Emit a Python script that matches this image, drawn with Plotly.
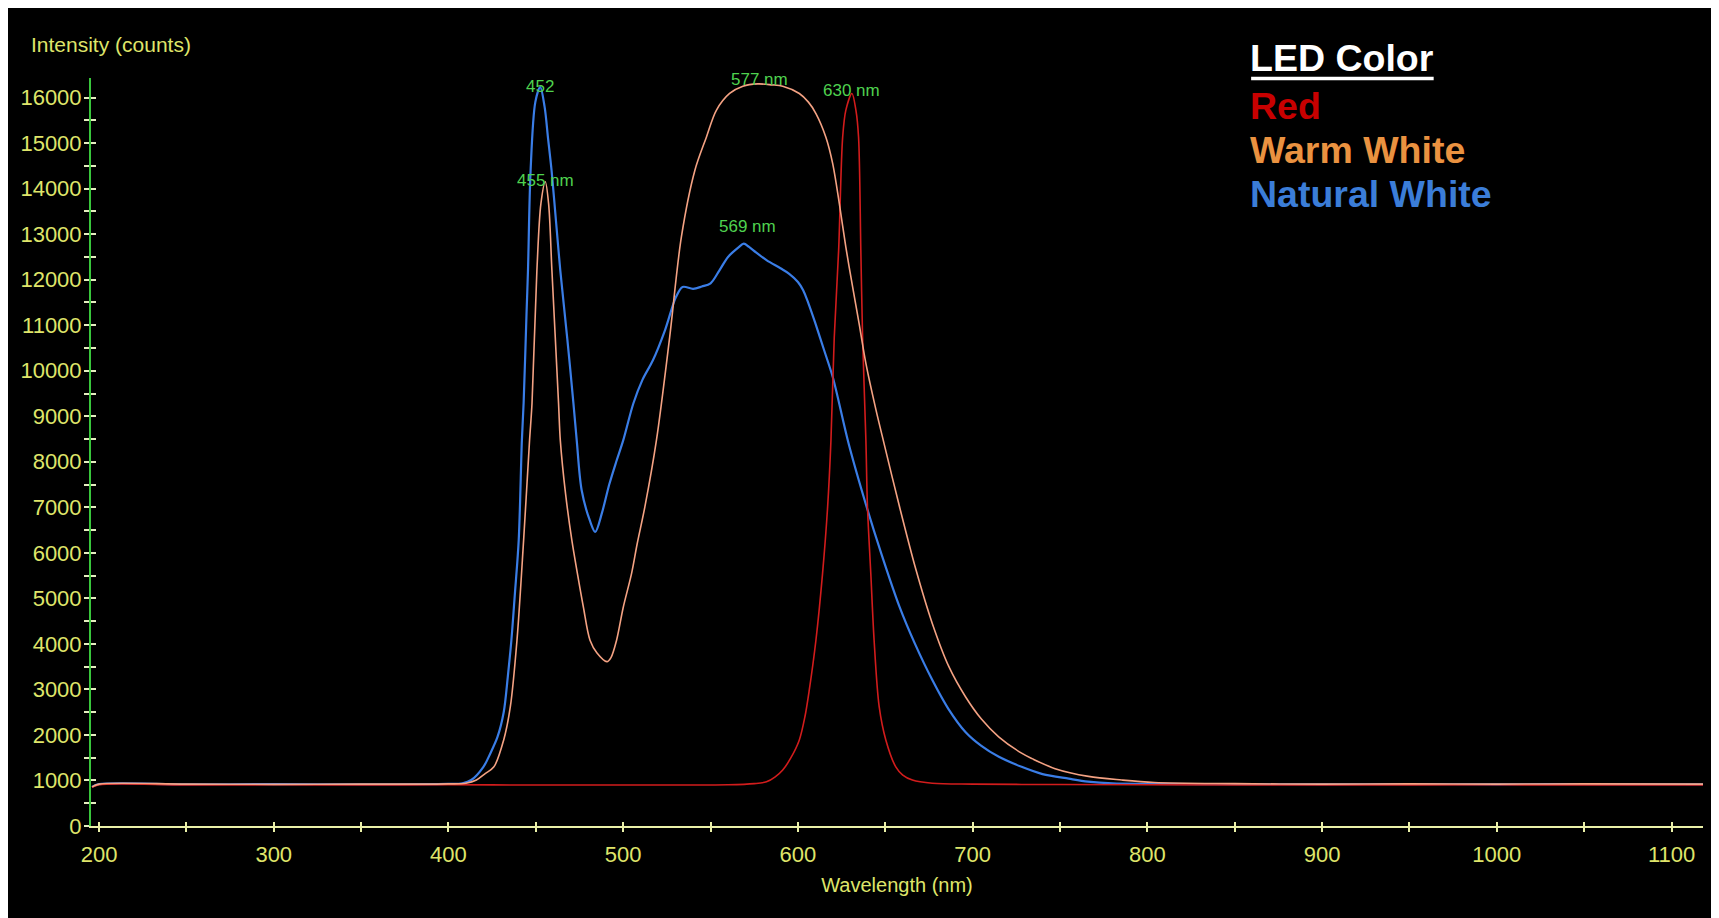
import plotly.graph_objects as go

# ---------------- data ----------------
wl_natural = [196, 200, 250, 300, 350, 400, 408, 413, 420, 424, 428, 431.6, 434, 436, 438, 440.2,
              442, 443, 444.7, 445.5, 447, 449.7, 452.5, 455, 457, 459, 461.5, 464, 468, 471.5,
              473.4, 476.2, 481, 484, 488, 492, 496, 500, 505.8, 511, 517, 524, 530, 534, 540,
              545, 550, 555, 560, 566, 569, 572, 576, 582, 590, 595, 600, 603, 606, 610, 615, 620, 629,
              639, 648, 658, 667, 677, 686, 696, 705, 715, 728, 740, 755, 766, 780, 800, 850, 900,
              950, 1000, 1050, 1118]
cnt_natural = [860, 920, 915, 920, 915, 925, 940, 1010, 1300, 1600, 1950, 2500, 3300, 4080, 5100, 6280,
               8470, 9290, 11300, 12200, 14400, 15900, 16230, 15800, 15100, 14400, 13300, 12200, 10700, 9290,
               8470, 7380, 6700, 6460, 6900, 7500, 8000, 8470, 9280, 9800, 10230, 10900, 11600, 11840, 11800,
               11850, 11920, 12200, 12500, 12710, 12790, 12720, 12600, 12430, 12250, 12130, 11950, 11770, 11480, 11040, 10450, 9850, 8400,
               7050, 5950, 4830, 4000, 3200, 2580, 2060, 1760, 1520, 1300, 1140, 1040, 975, 935, 925, 920, 915,
               920, 915, 920, 915]

wl_warm = [196, 200, 250, 300, 350, 400, 410, 416, 421, 426, 431.6, 435.4, 439.2, 443, 446.4, 447.8,
           450.6, 452.9, 455.4, 457.3, 459.2, 463, 464, 467, 470.6, 474, 477.2, 481, 485, 490.7, 493,
           496.2, 500, 504.8, 508, 512.4, 519, 526.6, 533.3, 541, 547.6, 553.3, 560.9, 568.5, 577, 585,
           591.3, 600.8, 606, 610.3, 616, 619.9, 623.7, 627.4, 631.3, 635, 638.9, 644.6, 649.3, 657.9,
           667.4, 676.9, 686.4, 695.9, 705, 714.9, 728, 734, 747.2, 766.3, 785.3, 804, 850, 900, 950,
           1000, 1050, 1118]
cnt_warm = [860, 920, 920, 915, 920, 925, 940, 1010, 1150, 1300, 1890, 2620, 4080, 6280, 8470, 9280,
            12200, 13670, 14150, 13670, 12200, 9280, 8470, 7300, 6280, 5500, 4810, 4080, 3800, 3610, 3700,
            4080, 4800, 5550, 6200, 7010, 8470, 10740, 12940, 14400, 15130, 15720, 16090, 16250, 16300, 16280,
            16250, 16090, 15900, 15650, 15130, 14550, 13670, 12720, 11840, 11040, 10160, 9150, 8400, 7050,
            5650, 4450, 3500, 2840, 2350, 1960, 1600, 1480, 1260, 1090, 1010, 955, 930, 920, 925,
            920, 925, 920]

wl_red = [196, 200, 250, 300, 350, 400, 450, 500, 560, 575, 582, 587, 591.3, 596, 600.8, 604, 606.5,
          610.3, 614.1, 617, 618.9, 620.8, 623.3, 625.6, 627.4, 630.9, 633.2, 634.7, 636, 637, 638.9,
          639.8, 641.7, 643.6, 646.5, 650.3, 656, 660, 665.5, 676.9, 700, 750, 800, 900, 1000, 1118]
cnt_red = [850, 905, 900, 905, 900, 905, 900, 900, 905, 930, 970, 1080, 1230, 1500, 1890, 2400, 2990,
           4080, 5550, 7010, 8470, 10740, 12650, 15130, 15720, 16090, 15720, 15130, 12650, 10740, 8470,
           7010, 5550, 4080, 2620, 1890, 1300, 1120, 1010, 940, 920, 910, 905, 900, 905, 900]

peak_labels = ["452", "455 nm", "577 nm", "630 nm", "569 nm"]
peak_wl = [452.5, 455.4, 578, 630.7, 571]
peak_cnt = [16230, 14150, 16300, 16090, 12790]
peak_shift = [1, 1, 4, 3, 17]

legend_title = "LED Color"
legend_names = ["Red", "Warm White", "Natural White"]

x_ticks = [200, 300, 400, 500, 600, 700, 800, 900, 1000, 1100]
y_ticks = list(range(0, 16001, 1000))

# ---------------- style ----------------
BLUE = "#3a7de6"
SALMON = "#f4a283"
RED = "#d21c1c"
YEL = "#dfe56a"
XLINE = "#eaf0a8"
GREEN_AX = "#39c63c"
LBL = "#4fd24f"
FONT = "Liberation Sans, Arial, sans-serif"

OFF = 8  # page body margin offset
W, H = 1719, 918
L, R, T, B = 87 - OFF, 1719 - (1703 - OFF), 78 - OFF, 918 - (826 - OFF)
pw, ph = W - L - R, H - T - B

def px(xs):
    # screen x (reference picture) -> paper fraction
    return (xs - OFF - L) / pw

def py(ys):
    return (H - B - (ys - OFF)) / ph

XR = [195.4, 1118]
YR = [0, 16430]
LS = dict(shape="spline", smoothing=0.9)

fig = go.Figure()
fig.add_trace(go.Scatter(x=wl_natural, y=cnt_natural, mode="lines",
                         line=dict(color=BLUE, width=2.2, **LS),
                         showlegend=False, hoverinfo="skip"))
fig.add_trace(go.Scatter(x=wl_red, y=cnt_red, mode="lines",
                         line=dict(color=RED, width=1.6, **LS),
                         showlegend=False, hoverinfo="skip"))
fig.add_trace(go.Scatter(x=wl_warm, y=cnt_warm, mode="lines",
                         line=dict(color=SALMON, width=1.6, **LS),
                         showlegend=False, hoverinfo="skip"))
# empty trace to hold overlay axes (inside tick halves)
fig.add_trace(go.Scatter(x=[], y=[], xaxis="x2", yaxis="y2", showlegend=False, hoverinfo="skip"))

annotations = []
for lab, xw, yc, sh in zip(peak_labels, peak_wl, peak_cnt, peak_shift):
    annotations.append(dict(x=xw, y=yc, xref="x", yref="y", text=lab, showarrow=False,
                            xanchor="center", yanchor="middle", yshift=sh,
                            font=dict(family=FONT, size=17, color=LBL)))

annotations.append(dict(x=px(25), y=py(44), xref="paper", yref="paper", text="Intensity (counts)",
                        showarrow=False, xanchor="left", yanchor="middle",
                        font=dict(family=FONT, size=21, color=YEL)))

leg_cols = ["#c80000", "#ea9240", "#3b7dd8"]
leg_y = [106, 150, 194]
annotations.append(dict(x=px(1247), y=py(58), xref="paper", yref="paper",
                        text="<b>" + legend_title + "</b>", showarrow=False,
                        xanchor="left", yanchor="middle",
                        font=dict(family=FONT, size=37.5, color="white")))
for name, col, yy in zip(legend_names, leg_cols, leg_y):
    annotations.append(dict(x=px(1247), y=py(yy), xref="paper", yref="paper",
                            text="<b>" + name + "</b>", showarrow=False,
                            xanchor="left", yanchor="middle",
                            font=dict(family=FONT, size=37.5, color=col)))

shapes = [dict(type="line", xref="paper", yref="paper", x0=px(1250), x1=px(1433),
               y0=py(78.5), y1=py(78.5), line=dict(color="white", width=3.5))]

fig.update_layout(
    width=W, height=H,
    margin=dict(l=L, r=R, t=T, b=B, pad=0),
    paper_bgcolor="black",
    plot_bgcolor="black",
    showlegend=False,
    annotations=annotations,
    shapes=shapes,
    xaxis=dict(range=XR, tickmode="array", tickvals=x_ticks, ticktext=[str(v) for v in x_ticks],
               ticks="outside", ticklen=4, tickwidth=1.5, tickcolor=XLINE,
               minor=dict(tickmode="linear", tick0=0, dtick=50, ticks="outside", ticklen=4,
                          tickwidth=1.5, tickcolor=XLINE, showgrid=False),
               showline=True, linecolor=XLINE, linewidth=2, showgrid=False, zeroline=False,
               tickfont=dict(family=FONT, size=22, color=YEL), ticklabelstandoff=4,
               title=dict(text="Wavelength (nm)", font=dict(family=FONT, size=20, color=YEL),
                          standoff=12)),
    xaxis2=dict(range=XR, overlaying="x", anchor="y", side="bottom",
                tickmode="linear", tick0=0, dtick=50, ticks="inside", ticklen=4, tickwidth=1.5,
                tickcolor=XLINE, showticklabels=False, showline=False, showgrid=False, zeroline=False),
    yaxis=dict(range=YR, tickmode="array", tickvals=y_ticks, ticktext=[str(v) for v in y_ticks],
               ticks="outside", ticklen=5, tickwidth=1.5, tickcolor="#e6edc0",
               minor=dict(tickmode="linear", tick0=0, dtick=500, ticks="outside", ticklen=5,
                          tickwidth=1.5, tickcolor="#e6edc0", showgrid=False),
               showline=True, linecolor=GREEN_AX, linewidth=2, showgrid=False, zeroline=False,
               tickfont=dict(family=FONT, size=22, color=YEL), ticklabelstandoff=-2),
    yaxis2=dict(range=YR, overlaying="y", anchor="x", side="left",
                tickmode="linear", tick0=0, dtick=500, ticks="inside", ticklen=5, tickwidth=1.5,
                tickcolor="#e6edc0", showticklabels=False, showline=False, showgrid=False, zeroline=False),
)

fig.write_html("out.html")
